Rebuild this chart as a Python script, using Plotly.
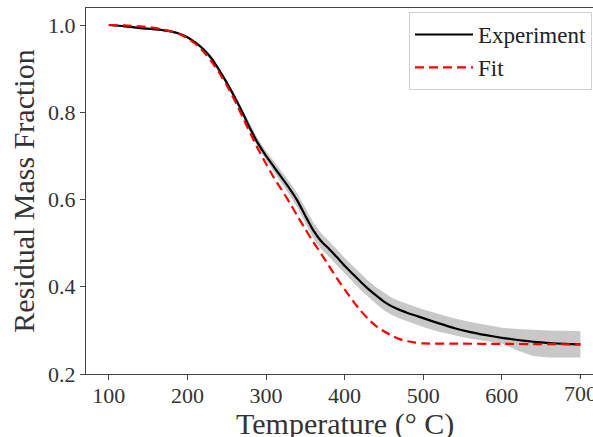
import plotly.graph_objects as go

# Experiment (mean curve)
exp_T = [100, 120, 140, 160, 180, 190, 200, 210, 220, 230, 240, 250, 260, 270, 280, 290,
         300, 310, 320, 330, 340, 350, 360, 370, 380, 390, 400, 410, 420, 430, 440, 450,
         460, 470, 480, 490, 500, 520, 540, 560, 580, 600, 620, 640, 660, 680, 700]
exp_M = [1.000, 0.997, 0.993, 0.990, 0.985, 0.980, 0.972, 0.960, 0.945, 0.925, 0.898, 0.868,
         0.835, 0.800, 0.762, 0.728, 0.700, 0.675, 0.650, 0.625, 0.597, 0.563, 0.530, 0.505,
         0.487, 0.468, 0.448, 0.430, 0.412, 0.395, 0.380, 0.366, 0.355, 0.347, 0.340, 0.334,
         0.328, 0.316, 0.305, 0.296, 0.289, 0.283, 0.278, 0.274, 0.271, 0.269, 0.268]

# Experimental spread (upper / lower edge of the band, same temperatures)
band_hi = [1.002, 0.999, 0.995, 0.992, 0.987, 0.982, 0.975, 0.963, 0.949, 0.930, 0.903, 0.874,
           0.842, 0.808, 0.771, 0.738, 0.711, 0.687, 0.663, 0.640, 0.613, 0.580, 0.548, 0.523,
           0.505, 0.486, 0.466, 0.448, 0.431, 0.414, 0.399, 0.386, 0.375, 0.367, 0.360, 0.354,
           0.348, 0.337, 0.327, 0.319, 0.312, 0.306, 0.303, 0.301, 0.300, 0.299, 0.298]
band_lo = [0.998, 0.995, 0.991, 0.988, 0.983, 0.978, 0.969, 0.957, 0.941, 0.920, 0.893, 0.862,
           0.828, 0.792, 0.753, 0.718, 0.689, 0.663, 0.637, 0.610, 0.581, 0.546, 0.512, 0.487,
           0.469, 0.450, 0.430, 0.412, 0.393, 0.376, 0.361, 0.346, 0.335, 0.327, 0.320, 0.314,
           0.308, 0.297, 0.289, 0.281, 0.275, 0.270, 0.254, 0.241, 0.238, 0.238, 0.238]

# Fit
fit_T = [100, 120, 140, 160, 180, 190, 200, 210, 220, 230, 240, 250, 260, 270, 280, 290,
         300, 310, 320, 330, 340, 350, 360, 370, 380, 390, 400, 410, 420, 430, 440, 450,
         460, 470, 480, 490, 500, 550, 600, 650, 700]
fit_M = [1.000, 0.999, 0.997, 0.993, 0.985, 0.979, 0.970, 0.957, 0.940, 0.918, 0.892, 0.862,
         0.828, 0.790, 0.752, 0.715, 0.682, 0.650, 0.622, 0.593, 0.562, 0.532, 0.503, 0.476,
         0.448, 0.420, 0.394, 0.369, 0.346, 0.326, 0.310, 0.298, 0.288, 0.280, 0.275, 0.272,
         0.270, 0.2695, 0.269, 0.2685, 0.268]

x_ticks = [100, 200, 300, 400, 500, 600, 700]
y_ticks = [0.2, 0.4, 0.6, 0.8, 1.0]
x_title = "Temperature (° C)"
y_title = "Residual Mass Fraction"

FONT = "Liberation Serif"
AX = "#444444"
TXT = "#333333"

fig = go.Figure()
fig.add_trace(go.Scatter(x=exp_T + exp_T[::-1], y=band_hi + band_lo[::-1],
                         fill="toself", fillcolor="#c8c8c8", line=dict(width=0),
                         mode="lines", hoverinfo="skip", showlegend=False))
fig.add_trace(go.Scatter(x=exp_T, y=exp_M, mode="lines", name="Experiment",
                         line=dict(color="black", width=2.2, shape="spline", smoothing=0.6)))
fig.add_trace(go.Scatter(x=fit_T, y=fit_M, mode="lines", name="Fit",
                         line=dict(color="#ff0000", width=2.2, dash="9px,5px",
                                   shape="spline", smoothing=0.6)))

fig.update_layout(
    width=593, height=437,
    margin=dict(l=86, r=0, t=8, b=63),
    paper_bgcolor="white", plot_bgcolor="white",
    font=dict(family=FONT, color=TXT),
    legend=dict(x=0.998, y=0.989, xanchor="right", yanchor="top",
                bgcolor="white", bordercolor="#d0d0d0", borderwidth=1,
                font=dict(family=FONT, size=23, color="#222222"),
                itemwidth=58, tracegroupgap=0),
)
fig.update_xaxes(range=[71, 716], tickvals=x_ticks[:-1], ticktext=[str(v) for v in x_ticks[:-1]],
                 showgrid=False, zeroline=False, showline=True, linecolor=AX, linewidth=1.3,
                 mirror=True, ticks="outside", ticklen=5, tickcolor=AX, ticklabelstandoff=-4,
                 tickfont=dict(family=FONT, size=22, color=TXT))
# last tick (700) sits at the cropped right edge; draw its mark and label explicitly
fig.add_shape(type="line", xref="x", yref="paper", x0=x_ticks[-1], x1=x_ticks[-1], y0=-5, y1=0,
              line=dict(color=AX, width=1.3), ysizemode="pixel", yanchor=0)
fig.add_annotation(x=x_ticks[-1], xref="x", y=0, yref="paper", yanchor="top", yshift=-5,
                   text=str(x_ticks[-1]), showarrow=False,
                   font=dict(family=FONT, size=22, color=TXT))
# x-axis title, centred under the data range 100..700 like the reference
fig.add_annotation(x=(x_ticks[0] + x_ticks[-1]) / 2, xref="x", y=0, yref="paper",
                   yanchor="top", yshift=-31, text=x_title, showarrow=False,
                   font=dict(family=FONT, size=30, color=TXT))
fig.update_yaxes(range=[0.2, 1.039], tickvals=y_ticks, ticktext=[f"{v:.1f}" for v in y_ticks],
                 showgrid=False, zeroline=False, showline=True, linecolor=AX, linewidth=1.3,
                 mirror=True, ticks="outside", ticklen=5, tickcolor=AX,
                 tickfont=dict(family=FONT, size=22, color=TXT),
                 title=dict(text=y_title, font=dict(family=FONT, size=30, color=TXT),
                            standoff=4))

fig.write_html("out.html")
